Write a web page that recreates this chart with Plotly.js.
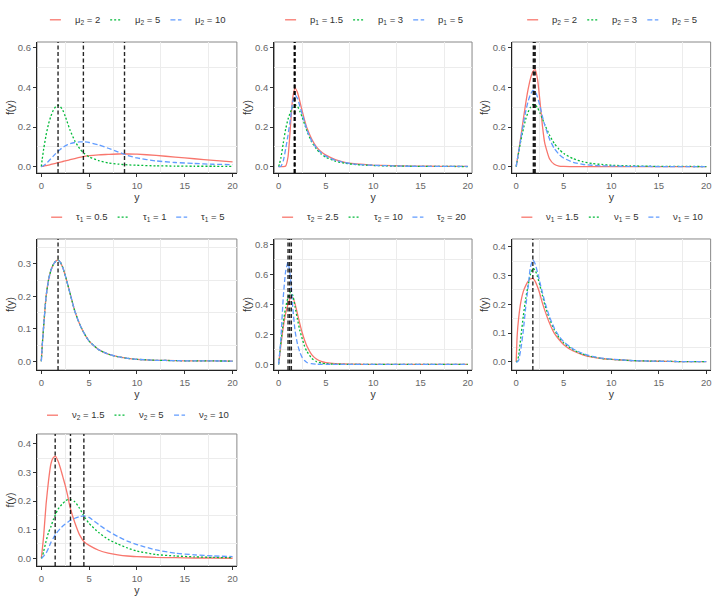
<!DOCTYPE html>
<html>
<head>
<meta charset="utf-8">
<script src="https://cdn.plot.ly/plotly-3.0.1.min.js"></script>
<style>body{margin:0;background:#fff}#myDiv{width:720px;height:600px}</style>
</head>
<body>
<div id="myDiv"></div>
<script>
// y grid shared by every curve
var yGrid = [0, 0.1, 0.25, 0.5, 0.75, 1, 1.25, 1.5, 1.75, 2, 2.25, 2.5, 2.75, 3, 3.5, 4, 4.5, 5, 6, 7, 8, 9, 10, 12, 14, 16, 18, 20];

// panel 1: mu2
var mu2Labels = ['2', '5', '10'];
var mu2_2  = [0, 0.001, 0.002, 0.005, 0.008, 0.011, 0.014, 0.017, 0.02, 0.023, 0.026, 0.029, 0.032, 0.035, 0.041, 0.047, 0.052, 0.056, 0.06, 0.062, 0.064, 0.064, 0.063, 0.057, 0.048, 0.04, 0.032, 0.024];
var mu2_5  = [0, 0.04, 0.09, 0.16, 0.215, 0.255, 0.285, 0.303, 0.31, 0.303, 0.285, 0.255, 0.22, 0.185, 0.13, 0.092, 0.066, 0.05, 0.03, 0.019, 0.013, 0.009, 0.007, 0.004, 0.003, 0.002, 0.002, 0.001];
var mu2_10 = [0, 0.002, 0.006, 0.015, 0.027, 0.04, 0.053, 0.066, 0.078, 0.088, 0.097, 0.105, 0.111, 0.116, 0.122, 0.125, 0.125, 0.122, 0.11, 0.093, 0.075, 0.057, 0.044, 0.029, 0.021, 0.016, 0.012, 0.01];
var mu2Modes = [8.7, 1.75, 4.4];

// panel 2: p1
var p1Labels = ['1.5', '3', '5'];
var p1_15 = [0, 0, 0, 0, 0.003, 0.05, 0.2, 0.35, 0.397, 0.375, 0.33, 0.28, 0.235, 0.195, 0.14, 0.1, 0.075, 0.058, 0.036, 0.022, 0.015, 0.011, 0.008, 0.005, 0.003, 0.002, 0.001, 0.001];
var p1_3  = [0, 0.015, 0.045, 0.12, 0.19, 0.24, 0.275, 0.3, 0.312, 0.305, 0.28, 0.25, 0.215, 0.18, 0.125, 0.09, 0.064, 0.048, 0.028, 0.017, 0.011, 0.008, 0.006, 0.003, 0.002, 0.001, 0.001, 0.0005];
var p1_5  = [0, 0, 0.002, 0.03, 0.09, 0.16, 0.24, 0.33, 0.36, 0.345, 0.305, 0.265, 0.225, 0.185, 0.13, 0.095, 0.07, 0.053, 0.032, 0.02, 0.013, 0.009, 0.007, 0.004, 0.002, 0.001, 0.001, 0.001];
var p1Modes = [1.75, 1.7, 1.65];

// panel 3: p2
var p2Labels = ['2', '3', '5'];
var p2_2 = [0, 0.03, 0.075, 0.155, 0.24, 0.32, 0.39, 0.445, 0.48, 0.49, 0.44, 0.33, 0.21, 0.12, 0.04, 0.012, 0.003, 0.001, 0, 0, 0, 0, 0, 0, 0, 0, 0, 0];
var p2_3 = [0, 0.028, 0.07, 0.135, 0.19, 0.24, 0.275, 0.3, 0.314, 0.312, 0.297, 0.272, 0.243, 0.213, 0.16, 0.117, 0.088, 0.066, 0.04, 0.025, 0.016, 0.011, 0.007, 0.004, 0.002, 0.001, 0.001, 0.0005];
var p2_5 = [0, 0.03, 0.073, 0.145, 0.215, 0.28, 0.33, 0.365, 0.385, 0.38, 0.35, 0.305, 0.255, 0.21, 0.14, 0.092, 0.062, 0.043, 0.022, 0.012, 0.007, 0.004, 0.003, 0.001, 0.001, 0, 0, 0];
var p2Modes = [2.0, 1.8, 1.9];

// panel 4: tau1 (the three curves coincide)
var tau1Labels = ['0.5', '1', '5'];
var tau1_all = [0, 0.05, 0.11, 0.2, 0.25, 0.28, 0.298, 0.308, 0.312, 0.305, 0.288, 0.265, 0.238, 0.21, 0.155, 0.115, 0.085, 0.062, 0.036, 0.022, 0.014, 0.009, 0.006, 0.003, 0.002, 0.001, 0.001, 0.0005];
var tau1Modes = [1.75];

// panel 5: tau2
var tau2Labels = ['2.5', '10', '20'];
var tau2_25 = [0, 0.05, 0.13, 0.25, 0.34, 0.4, 0.44, 0.445, 0.4, 0.335, 0.27, 0.21, 0.16, 0.12, 0.065, 0.035, 0.019, 0.011, 0.004, 0.002, 0.001, 0, 0, 0, 0, 0, 0, 0];
var tau2_10 = [0, 0.06, 0.15, 0.28, 0.38, 0.445, 0.48, 0.46, 0.38, 0.3, 0.225, 0.17, 0.12, 0.085, 0.04, 0.018, 0.008, 0.004, 0.001, 0, 0, 0, 0, 0, 0, 0, 0, 0];
var tau2_20 = [0, 0.06, 0.18, 0.45, 0.62, 0.68, 0.58, 0.38, 0.22, 0.135, 0.08, 0.045, 0.025, 0.012, 0.004, 0.001, 0, 0, 0, 0, 0, 0, 0, 0, 0, 0, 0, 0];
var tau2Modes = [1.35, 1.17, 1.0];

// panel 6: nu1
var nu1Labels = ['1.5', '5', '10'];
var nu1_15 = [0, 0.09, 0.15, 0.21, 0.245, 0.265, 0.28, 0.288, 0.29, 0.28, 0.26, 0.235, 0.205, 0.18, 0.135, 0.1, 0.078, 0.06, 0.038, 0.025, 0.017, 0.012, 0.009, 0.005, 0.003, 0.002, 0.001, 0.001];
var nu1_5  = [0, 0.003, 0.02, 0.09, 0.16, 0.22, 0.265, 0.305, 0.325, 0.318, 0.295, 0.265, 0.232, 0.2, 0.15, 0.112, 0.085, 0.066, 0.042, 0.027, 0.018, 0.012, 0.009, 0.005, 0.003, 0.002, 0.001, 0.001];
var nu1_10 = [0, 0, 0.005, 0.047, 0.11, 0.19, 0.26, 0.33, 0.354, 0.34, 0.31, 0.275, 0.242, 0.21, 0.157, 0.118, 0.09, 0.07, 0.045, 0.029, 0.019, 0.013, 0.01, 0.005, 0.003, 0.002, 0.001, 0.001];
var nu1Modes = [1.75];

// panel 7: nu2
var nu2Labels = ['1.5', '5', '10'];
var nu2_15 = [0, 0.03, 0.08, 0.19, 0.27, 0.33, 0.352, 0.357, 0.34, 0.315, 0.285, 0.255, 0.22, 0.18, 0.125, 0.082, 0.057, 0.045, 0.028, 0.018, 0.012, 0.008, 0.006, 0.003, 0.002, 0.001, 0.001, 0];
var nu2_5  = [0, 0.005, 0.025, 0.06, 0.09, 0.11, 0.135, 0.155, 0.172, 0.183, 0.192, 0.2, 0.205, 0.206, 0.198, 0.175, 0.145, 0.122, 0.09, 0.066, 0.05, 0.036, 0.025, 0.013, 0.008, 0.005, 0.003, 0.002];
var nu2_10 = [0, 0.002, 0.008, 0.018, 0.035, 0.055, 0.07, 0.085, 0.095, 0.105, 0.113, 0.12, 0.126, 0.132, 0.14, 0.146, 0.148, 0.143, 0.118, 0.095, 0.076, 0.06, 0.048, 0.029, 0.018, 0.012, 0.008, 0.006];
var nu2Modes = [1.45, 3.05, 4.45];

var panels = [
  {sym: '\u03bc', sub: '2', labels: mu2Labels, curves: [mu2_2, mu2_5, mu2_10], modes: mu2Modes, range: [-0.032, 0.63], dtick: 0.2, col: 0, row: 0},
  {sym: 'p', sub: '1', labels: p1Labels, curves: [p1_15, p1_3, p1_5], modes: p1Modes, range: [-0.032, 0.63], dtick: 0.2, col: 1, row: 0},
  {sym: 'p', sub: '2', labels: p2Labels, curves: [p2_2, p2_3, p2_5], modes: p2Modes, range: [-0.032, 0.63], dtick: 0.2, col: 2, row: 0},
  {sym: '\u03c4', sub: '1', labels: tau1Labels, curves: [tau1_all, tau1_all, tau1_all], modes: tau1Modes, range: [-0.027, 0.377], dtick: 0.1, col: 0, row: 1},
  {sym: '\u03c4', sub: '2', labels: tau2Labels, curves: [tau2_25, tau2_10, tau2_20], modes: tau2Modes, range: [-0.038, 0.835], dtick: 0.2, col: 1, row: 1},
  {sym: '\u03bd', sub: '1', labels: nu1Labels, curves: [nu1_15, nu1_5, nu1_10], modes: nu1Modes, range: [-0.028, 0.427], dtick: 0.1, col: 2, row: 1},
  {sym: '\u03bd', sub: '2', labels: nu2Labels, curves: [nu2_15, nu2_5, nu2_10], modes: nu2Modes, range: [-0.027, 0.435], dtick: 0.1, col: 0, row: 2}
];

var colors = ['#F8766D', '#00BA38', '#619CFF'];
var dashes = ['solid', '2px,2px', '5px,2.5px'];
var colDom = [[0.0514, 0.329], [0.381, 0.6556], [0.711, 0.987]];
var rowDom = [[0.7117, 0.93], [0.3833, 0.6017], [0.0567, 0.2767]];
var legendY = [0.967, 0.638, 0.308];
var W = 720;
var FONT = 'Liberation Sans, Arial, sans-serif';
var legSize = 9.5;

// text widths for the hand-laid legend rows
var ctx = document.createElement('canvas').getContext('2d');
function textW(s, size) {
  ctx.font = size + 'px "Liberation Sans", Arial, sans-serif';
  return ctx.measureText(s).width;
}

var data = [];
var layout = {
  width: 720, height: 600,
  margin: {l: 0, r: 0, t: 0, b: 0},
  paper_bgcolor: '#fff', plot_bgcolor: '#fff',
  font: {family: FONT, size: 10, color: '#333'},
  showlegend: false,
  shapes: [], annotations: []
};

panels.forEach(function(p, i) {
  var n = i === 0 ? '' : String(i + 1);
  var names = p.labels.map(function(l) { return p.sym + '<sub>' + p.sub + '</sub> = ' + l; });
  p.curves.forEach(function(c, k) {
    data.push({
      x: yGrid, y: c, type: 'scatter', mode: 'lines',
      xaxis: 'x' + n, yaxis: 'y' + n, name: names[k],
      line: {color: colors[k], dash: dashes[k], width: 1.3, shape: 'spline', smoothing: 0.5}
    });
  });
  layout['xaxis' + n] = {
    domain: colDom[p.col], anchor: 'y' + n, range: [-0.45, 20.45],
    tickvals: [0, 5, 10, 15, 20], ticks: 'outside', ticklen: 3, tickcolor: '#333',
    showgrid: false, zeroline: false, showline: true, linecolor: '#222', linewidth: 1.3,
    minor: {tick0: 2.5, dtick: 5, showgrid: true, gridcolor: '#ececec', gridwidth: 1},
    tickfont: {size: 9.5, color: '#666'},
    title: {text: 'y', font: {size: 10.5, color: '#333'}, standoff: 0}
  };
  layout['yaxis' + n] = {
    domain: rowDom[p.row], anchor: 'x' + n, range: p.range,
    tick0: 0, dtick: p.dtick, tickformat: '.1f', ticks: 'outside', ticklen: 3, tickcolor: '#333',
    showgrid: false, zeroline: false, showline: true, linecolor: '#222', linewidth: 1.3,
    minor: {tick0: p.dtick / 2, dtick: p.dtick, showgrid: true, gridcolor: '#ececec', gridwidth: 1},
    tickfont: {size: 9.5, color: '#666'},
    title: {text: 'f(y)', font: {size: 10.5, color: '#333'}, standoff: 1}
  };
  // frame around the panel
  layout.shapes.push({
    type: 'rect', xref: 'x' + n + ' domain', yref: 'y' + n + ' domain',
    x0: 0, x1: 1, y0: 0, y1: 1, line: {color: '#888', width: 1}, layer: 'below'
  });
  // modes
  p.modes.forEach(function(m) {
    layout.shapes.push({
      type: 'line', xref: 'x' + n, yref: 'y' + n + ' domain',
      x0: m, x1: m, y0: 0, y1: 1,
      line: {color: 'rgba(0,0,0,0.85)', width: 1.4, dash: '4px,2.5px'}
    });
  });
  // legend row above the panel: short line sample, gap, label
  var widths = p.labels.map(function(l) {
    return textW(p.sym, legSize) + textW(p.sub, legSize * 0.7) + textW(' = ' + l, legSize);
  });
  var symW = 11, gap = 12, sep = 12;
  var total = widths.reduce(function(a, w) { return a + symW + gap + w; }, 0) + sep * 2;
  var cx = (colDom[p.col][0] + colDom[p.col][1]) / 2 * W;
  var x = cx - total / 2;
  var ly = legendY[p.row];
  widths.forEach(function(w, k) {
    layout.shapes.push({
      type: 'line', xref: 'paper', yref: 'paper',
      x0: x / W, x1: (x + symW) / W, y0: ly, y1: ly,
      line: {color: colors[k], width: 1.3, dash: dashes[k]}
    });
    layout.annotations.push({
      xref: 'paper', yref: 'paper', x: (x + symW + gap) / W, y: ly,
      xanchor: 'left', yanchor: 'middle', showarrow: false,
      text: names[k], font: {size: legSize, color: '#333'}
    });
    x += symW + gap + w + sep;
  });
});

Plotly.newPlot('myDiv', data, layout, {displayModeBar: false});
</script>
</body>
</html>
